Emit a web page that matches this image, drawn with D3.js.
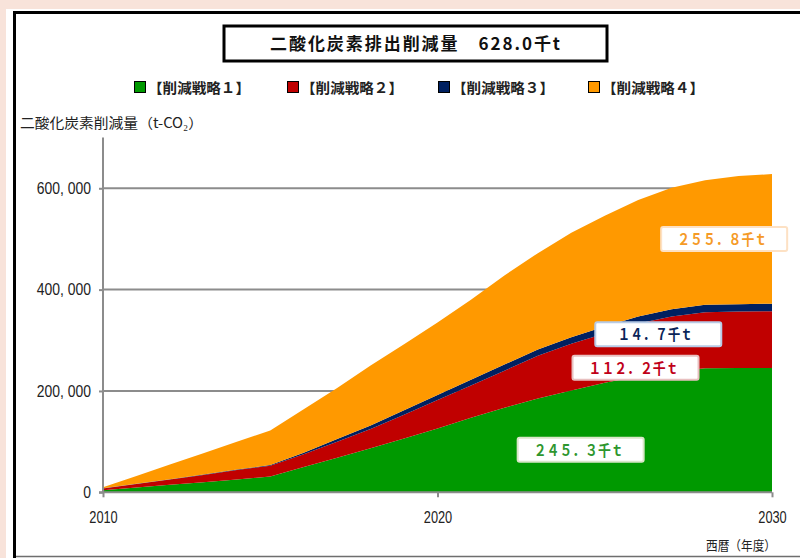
<!DOCTYPE html>
<html><head><meta charset="utf-8">
<script src="https://cdn.jsdelivr.net/npm/d3@7/dist/d3.min.js"></script>
<style>
html,body{margin:0;padding:0;background:#f8e3da;}
svg{display:block;}
</style></head><body>
<svg id="c" width="800" height="558"></svg>
<script>
// ---- data (t-CO2) ----
const years = [2010,2011,2012,2013,2014,2015,2016,2017,2018,2019,2020,2021,2022,2023,2024,2025,2026,2027,2028,2029,2030];
const strategy1 = [4000,9500,15000,20000,25500,31000,50000,68000,87000,106000,126000,147000,167000,185000,201000,216000,229000,238000,245000,245200,245300];
const strategy2 = [3700,7000,10300,14100,18400,21500,25000,32000,38000,47000,56000,64000,73000,84500,92000,97500,104000,109000,110500,111500,112200];
const strategy3 = [300,500,700,900,1100,1500,3000,5000,7000,9000,10000,11000,12000,12500,13000,13500,14000,14300,14500,14600,14700];
const strategy4 = [2000,15000,29000,42000,55000,68000,86000,101000,118000,130000,143000,158000,176000,190000,206000,219000,230000,239700,246000,252700,255800];
const seriesNames = ["【削減戦略１】","【削減戦略２】","【削減戦略３】","【削減戦略４】"];
const seriesColors = ["#009900","#c00000","#002060","#ff9900"];
const yTicks = [0,200000,400000,600000];
const yTickLabels = ["0","200, 000","400, 000","600, 000"];
const xTicks = [2010,2020,2030];
const titleText = "二酸化炭素排出削減量　628.0千t";
const yTitle = "二酸化炭素削減量（t-CO₂）";
const xTitle = "西暦（年度）";
// annotation labels: text, year anchor, value anchor
const annoTexts = ["２４５．３千ｔ","１１２．２千ｔ","１４．７千ｔ","２５５．８千ｔ"];
const annoYears = [2024.28, 2025.92, 2026.6, 2028.57];
const annoValues = [84000, 246000, 312000, 500000];
const annoTextColors = ["#2e962e","#c00018","#0a2458","#f59a25"];
const annoBorderColors = ["#d9e6c8","#e8c0c0","#b8cbe6","#fde1c4"];

// ---- build ----
const svg = d3.select("#c");
const W = 800, H = 558;

// frame
svg.append("rect").attr("x",6).attr("y",9).attr("width",W-6).attr("height",H-9).attr("fill","#ffffff");
svg.append("line").attr("x1",16).attr("x2",W).attr("y1",556.5).attr("y2",556.5).attr("stroke","#6e6e6e").attr("stroke-width",1.5);
svg.append("line").attr("x1",13).attr("x2",W).attr("y1",12.5).attr("y2",12.5).attr("stroke","#000").attr("stroke-width",3);
svg.append("line").attr("x1",14.5).attr("x2",14.5).attr("y1",11).attr("y2",H).attr("stroke","#000").attr("stroke-width",3);

const x = d3.scaleLinear().domain([2010,2030]).range([103,772]);
const y = d3.scaleLinear().domain([0,700000]).range([492.3,137.6]);

const table = years.map((yr,i)=>({year:yr, s0:strategy1[i], s1:strategy2[i], s2:strategy3[i], s3:strategy4[i]}));
const stack = d3.stack().keys(["s0","s1","s2","s3"]);
const layers = stack(table);

// gridlines
svg.append("g").selectAll("line").data(yTicks.filter(v=>v>0)).join("line")
  .attr("x1",x(2010)).attr("x2",x(2030)).attr("y1",d=>y(d)).attr("y2",d=>y(d))
  .attr("stroke","#8c8c8c").attr("stroke-width",2);

const area = d3.area().x(d=>x(d.data.year)).y0(d=>y(d[0])).y1(d=>y(d[1]));
svg.append("g").selectAll("path").data(layers).join("path")
  .attr("d",area).attr("fill",(d,i)=>seriesColors[i]);

// axes
const yAxis = d3.axisLeft(y).tickValues(yTicks).tickSize(4).tickPadding(8).tickFormat((d,i)=>yTickLabels[i]);
const gy = svg.append("g").attr("transform",`translate(${x(2010)},0)`).call(yAxis);
gy.select(".domain").attr("stroke","#8c8c8c").attr("stroke-width",2).attr("d",`M-4,${y(0)}H0V${y(700000)}`);
gy.selectAll(".tick line").attr("stroke","#8c8c8c").attr("stroke-width",2);
gy.selectAll("text").attr("font-family","Liberation Sans, Arial, sans-serif").attr("font-size",16).attr("fill","#222")
  .each(function(){const n=this.getComputedTextLength(); this.setAttribute("textLength", n*0.87); this.setAttribute("lengthAdjust","spacingAndGlyphs");});

const xAxis = d3.axisBottom(x).tickValues(xTicks).tickSize(5).tickFormat(d3.format("d"));
const gx = svg.append("g").attr("transform",`translate(0,${y(0)})`).call(xAxis);
gx.select(".domain").attr("stroke","#8c8c8c").attr("stroke-width",2).attr("d",`M${x(2010)},0H${x(2030)}`);
gx.selectAll(".tick line").attr("stroke","#8c8c8c").attr("stroke-width",2);
gx.selectAll("text").attr("font-family","Liberation Sans, Arial, sans-serif").attr("font-size",16).attr("fill","#222")
  .attr("y",19).attr("dy","0.71em")
  .each(function(){const n=this.getComputedTextLength(); this.setAttribute("textLength", n*0.8); this.setAttribute("lengthAdjust","spacingAndGlyphs");});

// title box
svg.append("rect").attr("x",224).attr("y",26).attr("width",383).attr("height",35)
  .attr("fill","#fff").attr("stroke","#000").attr("stroke-width",3);
svg.append("text").attr("x",415).attr("y",50).attr("text-anchor","middle")
  .attr("font-family","Noto Sans CJK JP").attr("font-weight","bold").attr("font-size",17).attr("fill","#111")
  .attr("textLength",290).attr("lengthAdjust","spacing").text(titleText);

// legend
const legX = [134,287,438,588];
const lg = svg.append("g").selectAll("g").data(seriesNames).join("g")
  .attr("transform",(d,i)=>`translate(${legX[i]},81)`);
lg.append("rect").attr("x",0.5).attr("y",0.5).attr("width",11).attr("height",11)
  .attr("fill",(d,i)=>seriesColors[i]).attr("stroke","#000").attr("stroke-width",1);
lg.append("text").attr("x",14).attr("y",11.5)
  .attr("font-family","Noto Sans CJK JP").attr("font-weight","bold").attr("font-size",14).attr("fill","#222")
  .attr("textLength",102).attr("lengthAdjust","spacingAndGlyphs").text(d=>d);

// axis titles
svg.append("text").attr("x",20).attr("y",128)
  .attr("font-family","Noto Sans CJK JP").attr("font-size",14).attr("fill","#222")
  .attr("textLength",183).attr("lengthAdjust","spacingAndGlyphs").text(yTitle);
svg.append("text").attr("x",776).attr("y",550).attr("text-anchor","end")
  .attr("font-family","Noto Sans CJK JP").attr("font-size",13).attr("fill","#222")
  .attr("textLength",70).attr("lengthAdjust","spacingAndGlyphs").text(xTitle);

// annotation labels
const boxW = [126,126,126,126];
const ag = svg.append("g").selectAll("g").data(annoTexts).join("g")
  .attr("transform",(d,i)=>`translate(${x(annoYears[i])},${y(annoValues[i])})`);
ag.append("rect").attr("x",-63).attr("y",-12).attr("width",126).attr("height",24).attr("rx",2)
  .attr("fill","#fff").attr("stroke",(d,i)=>annoBorderColors[i]).attr("stroke-width",2);
ag.append("text").attr("x",(d,i)=>i===2?-3:-2).attr("y",6)
  .attr("text-anchor","middle")
  .attr("font-family","Noto Sans CJK JP").attr("font-weight","bold").attr("font-size",15)
  .attr("fill",(d,i)=>annoTextColors[i])
  .attr("textLength",(d,i)=>i===2?75:90).attr("lengthAdjust","spacingAndGlyphs").text(d=>d);
</script>
</body></html>
